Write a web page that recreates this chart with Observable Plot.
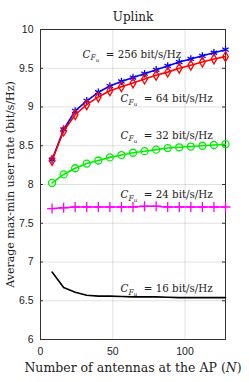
<!DOCTYPE html>
<html><head><meta charset="utf-8">
<script src="https://cdn.jsdelivr.net/npm/d3@7"></script>
<script src="https://cdn.jsdelivr.net/npm/@observablehq/plot@0.6"></script>
<style>
html,body{margin:0;padding:0;background:#fff}svg{display:block}
svg text.serif-text, svg text.serif-text tspan{font-family:"DejaVu Serif","Liberation Serif","Noto Serif",serif !important}
svg text.sans-text{font-family:"Liberation Sans","DejaVu Sans",Arial,sans-serif !important}
</style>
</head><body><div id="chart"></div>
<script>
// ---- data ----
const antennas = [8,16,24,32,40,48,56,64,72,80,88,96,104,112,120,128];
const rate256 = [8.32,8.71,8.95,9.08,9.19,9.27,9.33,9.38,9.43,9.48,9.53,9.58,9.62,9.66,9.70,9.74];
const rate64  = [8.31,8.69,8.90,9.03,9.13,9.21,9.26,9.31,9.36,9.41,9.45,9.50,9.54,9.58,9.62,9.65];
const rate32  = [8.02,8.13,8.21,8.27,8.31,8.35,8.38,8.41,8.43,8.45,8.47,8.48,8.49,8.50,8.51,8.52];
const rate24  = [7.69,7.70,7.71,7.71,7.71,7.71,7.71,7.71,7.72,7.72,7.71,7.71,7.71,7.71,7.71,7.71];
const rate16  = [6.87,6.67,6.61,6.57,6.56,6.56,6.555,6.55,6.55,6.55,6.545,6.54,6.54,6.54,6.54,6.54];
const capacities = [256,64,32,24,16];
const labelN    = [29.1,55.4,55.4,55.4,55.4];
const labelRate = [9.677,9.106,8.632,7.862,6.654];
const xTicks = [0,50,100];
const yTicks = [6,6.5,7,7.5,8,8.5,9,9.5,10];
const title = "Uplink";
const xLabel = "Number of antennas at the AP (N)";
const yLabel = "Average max-min user rate (bit/s/Hz)";

// ---- styling per series ----
const seriesDefs = [
  {values: rate16,  color: "#000000", symbol: null},
  {values: rate24,  color: "#ff00ff", symbol: "plus", r: 3.3},
  {values: rate32,  color: "#00ee00", symbol: "circle", r: 3.5},
  {values: rate256, color: "#0000ff", symbol: "asterisk", r: 3.5},
  {values: rate64,  color: "#ff0000", symbol: "diamond", r: 3.0}
];

const plotW = 249 - 40 - 24;

const marks = [
  Plot.gridX(xTicks, {stroke: "#000", strokeOpacity: 0.12}),
  Plot.gridY(yTicks, {stroke: "#000", strokeOpacity: 0.12}),
  Plot.axisX({ticks: xTicks, tickSize: 0, tickPadding: 8, fontSize: 10.5, label: null, tickFormat: d => String(d)}),
  Plot.axisY({ticks: yTicks, tickSize: 0, tickPadding: 7, fontSize: 10.5, label: null, tickFormat: d => String(d)}),
  Plot.tickY(yTicks, {y: d => d, stroke: "#333", insetRight: plotW - 3}),
  Plot.tickY(yTicks, {y: d => d, stroke: "#333", insetLeft: plotW - 3}),
  Plot.frame({stroke: "#333", strokeWidth: 1})
];
for (const s of seriesDefs) {
  const rows = antennas.map((n, i) => ({n, v: s.values[i]}));
  marks.push(Plot.line(rows, {x: "n", y: "v", stroke: s.color, strokeWidth: 1.6}));
  if (s.symbol) marks.push(Plot.dot(rows, {x: "n", y: "v", stroke: s.color, symbol: () => s.symbol, r: s.r, strokeWidth: 1.3, fill: "none"}));
}
marks.push(
  Plot.text(capacities, {x: (d, i) => labelN[i], y: (d, i) => labelRate[i], text: d => `C_Fu = ${d} bit/s/Hz`, textAnchor: "start", lineAnchor: "middle", fontSize: 10.3, fill: "#222"}),
  Plot.text([title], {text: d => d, frameAnchor: "top", dy: -12, textAnchor: "middle", lineAnchor: "middle", fontSize: 12, fill: "#222"}),
  Plot.text([xLabel], {text: d => d, frameAnchor: "bottom", dy: 28, textAnchor: "middle", lineAnchor: "middle", fontSize: 12.5, fill: "#222"}),
  Plot.text([yLabel], {text: d => d, frameAnchor: "left", dx: -30, rotate: -90, textAnchor: "middle", lineAnchor: "middle", fontSize: 11, fill: "#222"})
);

const chart = Plot.plot({
  width: 249, height: 382,
  marginLeft: 40, marginRight: 24, marginTop: 29, marginBottom: 43,
  x: {domain: [0, 128]},
  y: {domain: [6, 10]},
  symbol: {type: "identity"},
  style: {background: "#fff", color: "#222"},
  marks
});
document.getElementById("chart").appendChild(chart);

const serifTexts = new Set([title, xLabel, yLabel]);
d3.select(chart).selectAll("text").each(function() {
  const s = this.textContent;
  const t = d3.select(this);
  if (s.startsWith("C_Fu = ")) {
    const rest = s.slice(4);
    t.classed("serif-text", true);
    t.text(null);
    t.append("tspan").attr("font-style", "italic").text("C");
    t.append("tspan").attr("font-style", "italic").attr("font-size", 7.5).attr("dy", 2.5).text("F");
    t.append("tspan").attr("font-style", "italic").attr("font-size", 5.5).attr("dy", 1.2).text("u");
    t.append("tspan").attr("dy", -3.7).text(" " + rest);
  } else if (serifTexts.has(s)) {
    t.classed("serif-text", true);
    if (s === xLabel) {
      const i = s.indexOf("(N)");
      t.text(null);
      t.append("tspan").text(s.slice(0, i + 1));
      t.append("tspan").attr("font-style", "italic").text("N");
      t.append("tspan").text(")");
    }
  } else {
    t.classed("sans-text", true);
  }
});
</script>
</body></html>
